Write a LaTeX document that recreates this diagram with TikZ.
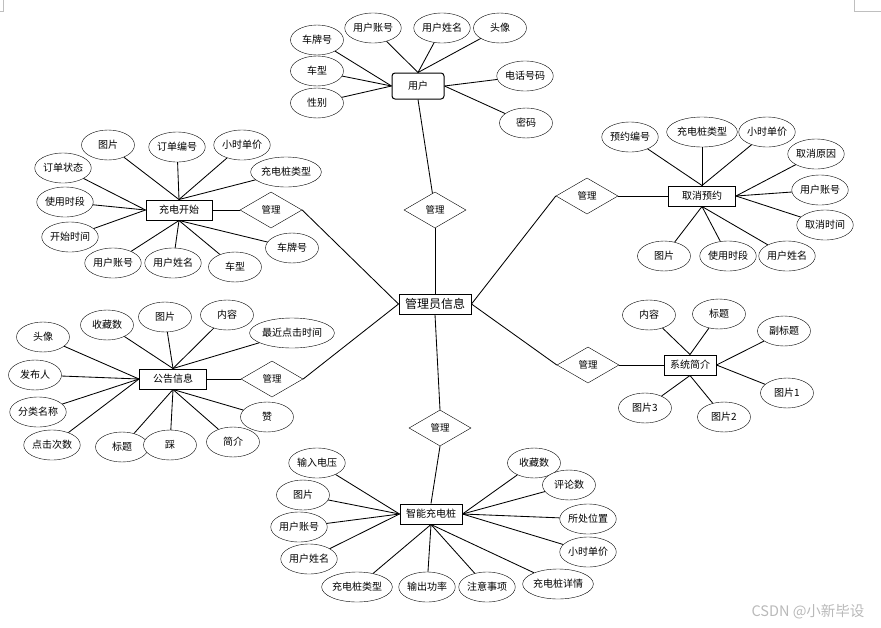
\documentclass[tikz,border=0pt]{standalone}
\usepackage{fontspec}
\setmainfont{Noto Sans CJK SC}
\usetikzlibrary{shapes.geometric}

\tikzset{
  attr/.style={ellipse,draw,fill=white,minimum width=53pt,minimum height=30pt,
    inner sep=0pt,font=\fontsize{10}{12}\selectfont},
  ent/.style={rectangle,draw,fill=white,line width=1pt,minimum height=20pt,
    inner xsep=6pt,inner ysep=2pt,font=\fontsize{10}{12}\selectfont},
  rel/.style={diamond,draw,fill=white,minimum width=62pt,minimum height=36pt,
    inner sep=0pt,font=\fontsize{9.5}{11}\selectfont},
  link/.style={line width=0.85pt}
}

\begin{document}
\begin{tikzpicture}[x=1pt,y=-1pt]
      \useasboundingbox (0,0) rectangle (881,627);
      \draw[gray!50] (854,0)--(854,11)--(881,11);
      \draw[gray!50] (3,0)--(3,11)--(0,11);

      % center
      \node[ent,minimum width=67pt,font=\fontsize{12}{14}\selectfont] (admin) at (435,304) {管理员信息};
      \node[rel] (rtop) at (435,210) {管理};
      \node[rel] (rcancel) at (587,196) {管理};
      \node[rel] (rstart) at (271,210) {管理};
      \node[rel] (rnotice) at (272,379) {管理};
      \node[rel] (rintro) at (588,365) {管理};
      \node[rel] (rpile) at (440,428) {管理};

      % user
      \node[ent,rounded corners=3pt,minimum width=52pt,minimum height=26pt] (user) at (418,86) {用户};
      \draw[link] (rtop) -- (user.south);
      \draw[link] (rtop) -- (admin.north);
      \node[attr] (u1) at (317,40) {车牌号};
      \node[attr] (u2) at (373,28) {用户账号};
      \node[attr] (u3) at (442,28) {用户姓名};
      \node[attr] (u4) at (500,28) {头像};
      \node[attr] (u5) at (317,71) {车型};
      \node[attr] (u6) at (317,103) {性别};
      \node[attr] (u7) at (525,76) {电话号码};
      \node[attr] (u8) at (526,123) {密码};
      \draw[link] (u1) -- (user.west);
      \draw[link] (u2) -- (user.north);
      \draw[link] (u3) -- (user.north);
      \draw[link] (u4) -- (user.north);
      \draw[link] (u5) -- (user.west);
      \draw[link] (u6) -- (user.west);
      \draw[link] (u7) -- (user.east);
      \draw[link] (u8) -- (user.east);

      % cancel
      \node[ent,minimum width=67pt] (cancel) at (702,196) {取消预约};
      \draw[link] (admin.east) -- (rcancel.west);
      \draw[link] (rcancel) -- (cancel);
      \node[attr] (c1) at (630,137) {预约编号};
      \node[attr] (c2) at (702,132) {充电桩类型};
      \node[attr] (c3) at (767,132) {小时单价};
      \node[attr] (c4) at (816,154) {取消原因};
      \node[attr] (c5) at (820,190) {用户账号};
      \node[attr] (c6) at (825,225) {取消时间};
      \node[attr] (c7) at (664,256) {图片};
      \node[attr] (c8) at (728,256) {使用时段};
      \node[attr] (c9) at (787,256) {用户姓名};
      \draw[link] (c1) -- (cancel.north);
      \draw[link] (c2) -- (cancel.north);
      \draw[link] (c3) -- (cancel.north);
      \draw[link] (c4) -- (cancel.east);
      \draw[link] (c5) -- (cancel.east);
      \draw[link] (c6) -- (cancel.east);
      \draw[link] (c7) -- (cancel.south);
      \draw[link] (c8) -- (cancel.south);
      \draw[link] (c9) -- (cancel.south);

      % start
      \node[ent,minimum width=66pt] (start) at (179,210) {充电开始};
      \draw[link] (admin.west) -- (rstart.east);
      \draw[link] (rstart) -- (start);
      \node[attr] (s1) at (108,145) {图片};
      \node[attr] (s2) at (177,147) {订单编号};
      \node[attr] (s3) at (242,145) {小时单价};
      \node[attr] (s4) at (63,168) {订单状态};
      \node[attr] (s5) at (286,172) {充电桩类型};
      \node[attr] (s6) at (65,202) {使用时段};
      \node[attr] (s7) at (70,237) {开始时间};
      \node[attr] (s8) at (113,263) {用户账号};
      \node[attr] (s9) at (173,263) {用户姓名};
      \node[attr] (s10) at (235,267) {车型};
      \node[attr] (s11) at (292,248) {车牌号};
      \draw[link] (s1) -- (start.north);
      \draw[link] (s2) -- (start.north);
      \draw[link] (s3) -- (start.north);
      \draw[link] (s4) -- (start.west);
      \draw[link] (s5) -- (start.north);
      \draw[link] (s6) -- (start.west);
      \draw[link] (s7) -- (start.west);
      \draw[link] (s8) -- (start.south);
      \draw[link] (s9) -- (start.south);
      \draw[link] (s10) -- (start.south);
      \draw[link] (s11) -- (start.south);

      % notice
      \node[ent,minimum width=67pt] (notice) at (173,379) {公告信息};
      \draw[link] (admin.west) -- (rnotice.east);
      \draw[link] (rnotice) -- (notice);
      \node[attr] (n1) at (43,337) {头像};
      \node[attr] (n2) at (107,325) {收藏数};
      \node[attr] (n3) at (165,317) {图片};
      \node[attr] (n4) at (227,315) {内容};
      \node[attr] (n5) at (292,333) {最近点击时间};
      \node[attr] (n6) at (35,375) {发布人};
      \node[attr] (n7) at (38,412) {分类名称};
      \node[attr] (n8) at (52,445) {点击次数};
      \node[attr] (n9) at (122,447) {标题};
      \node[attr] (n10) at (170,445) {踩};
      \node[attr] (n11) at (233,442) {简介};
      \node[attr] (n12) at (267,417) {赞};
      \draw[link] (n1) -- (notice.west);
      \draw[link] (n2) -- (notice.north);
      \draw[link] (n3) -- (notice.north);
      \draw[link] (n4) -- (notice.north);
      \draw[link] (n5) -- (notice.north);
      \draw[link] (n6) -- (notice.west);
      \draw[link] (n7) -- (notice.west);
      \draw[link] (n8) -- (notice.west);
      \draw[link] (n9) -- (notice.south);
      \draw[link] (n10) -- (notice.south);
      \draw[link] (n11) -- (notice.south);
      \draw[link] (n12) -- (notice.south);

      % intro
      \node[ent,minimum width=51pt] (intro) at (690,365) {系统简介};
      \draw[link] (admin.east) -- (rintro.west);
      \draw[link] (rintro) -- (intro);
      \node[attr] (i1) at (649,315) {内容};
      \node[attr] (i2) at (719,314) {标题};
      \node[attr] (i3) at (784,331) {副标题};
      \node[attr] (i4) at (787,393) {图片1};
      \node[attr] (i5) at (645,408) {图片3};
      \node[attr] (i6) at (724,417) {图片2};
      \draw[link] (i1) -- (intro.north);
      \draw[link] (i2) -- (intro.north);
      \draw[link] (i3) -- (intro.east);
      \draw[link] (i4) -- (intro.east);
      \draw[link] (i5) -- (intro.south);
      \draw[link] (i6) -- (intro.south);

      % pile
      \node[ent,minimum width=62pt] (pile) at (431,514) {智能充电桩};
      \draw[link] (admin.south) -- (rpile.north);
      \draw[link] (rpile.south) -- (pile.north);
      \node[attr] (p1) at (317,463) {输入电压};
      \node[attr] (p2) at (303,495) {图片};
      \node[attr] (p3) at (299,527) {用户账号};
      \node[attr] (p4) at (309,559) {用户姓名};
      \node[attr] (p5) at (357,587) {充电桩类型};
      \node[attr] (p6) at (427,587) {输出功率};
      \node[attr] (p7) at (487,587) {注意事项};
      \node[attr] (p8) at (558,584) {充电桩详情};
      \node[attr] (p9) at (534,463) {收藏数};
      \node[attr] (p10) at (569,485) {评论数};
      \node[attr] (p11) at (588,519) {所处位置};
      \node[attr] (p12) at (588,552) {小时单价};
      \draw[link] (p1) -- (pile.west);
      \draw[link] (p2) -- (pile.west);
      \draw[link] (p3) -- (pile.west);
      \draw[link] (p4) -- (pile.west);
      \draw[link] (p5) -- (pile.south);
      \draw[link] (p6) -- (pile.south);
      \draw[link] (p7) -- (pile.south);
      \draw[link] (p8) -- (pile.south);
      \draw[link] (p9) -- (pile.east);
      \draw[link] (p10) -- (pile.east);
      \draw[link] (p11) -- (pile.east);
      \draw[link] (p12) -- (pile.east);

      % watermark
      \node[text=gray!55,font=\fontsize{14.5}{16}\selectfont] (mark) at (808,612) {CSDN @小新毕设};

    \end{tikzpicture}
\end{document}
